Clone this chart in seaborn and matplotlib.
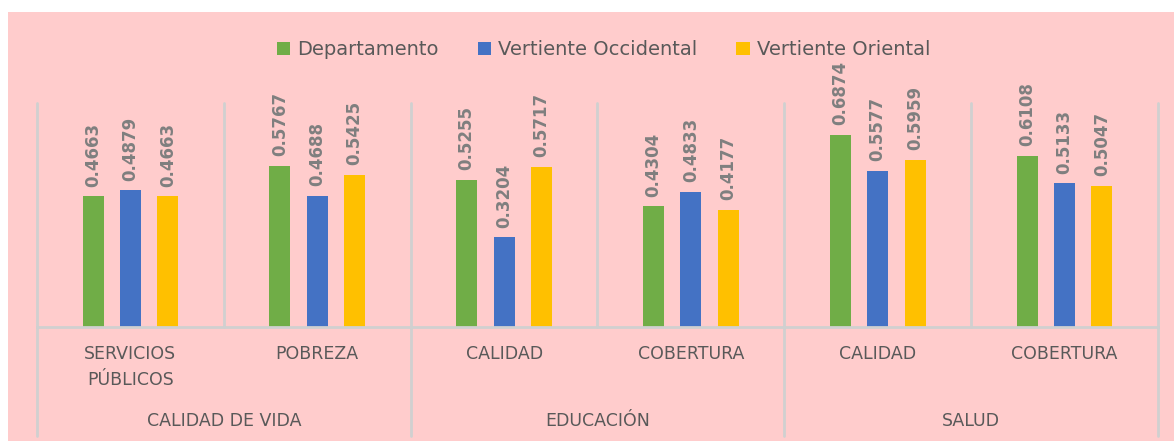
import matplotlib
matplotlib.use("Agg")
import matplotlib.pyplot as plt
from matplotlib.patches import Rectangle
import pandas as pd
import seaborn as sns

# data
groups = ["CALIDAD DE VIDA", "EDUCACIÓN", "SALUD"]
subcats = ["SERVICIOS\nPÚBLICOS", "POBREZA", "CALIDAD", "COBERTURA", "CALIDAD", "COBERTURA"]
series = ["Departamento", "Vertiente Occidental", "Vertiente Oriental"]
departamento = [0.4663, 0.5767, 0.5255, 0.4304, 0.6874, 0.6108]
occidental = [0.4879, 0.4688, 0.3204, 0.4833, 0.5577, 0.5133]
oriental = [0.4663, 0.5425, 0.5717, 0.4177, 0.5959, 0.5047]
colors = ["#70AD47", "#4472C4", "#FFC000"]

rows = []
for vals, name in zip([departamento, occidental, oriental], series):
    for i, v in enumerate(vals):
        rows.append({"pos": i, "serie": name, "valor": v})
df = pd.DataFrame(rows)

sns.set_style("white")
plt.rcParams["font.family"] = ["DejaVu Sans"]
text_col = "#595959"
line_col = "#D0D0D0"

fig = plt.figure(figsize=(11.74, 4.41), dpi=100, facecolor="white")
fig.patches.append(Rectangle((8 / 1174, 0), 1, 1 - 12 / 441, transform=fig.transFigure,
                             facecolor="#FFCCCC", edgecolor="none", zorder=-10))
ax = fig.add_axes([37 / 1174, (441 - 327) / 441, (1158 - 37) / 1174, 224 / 441])
ax.set_facecolor("none")

sns.barplot(data=df, x="pos", y="valor", hue="serie", hue_order=series,
            palette=colors, width=0.6, gap=0.44, ax=ax, legend=True,
            edgecolor="none", saturation=1)

for cont in ax.containers:
    ax.bar_label(cont, fmt="%.4f", rotation=90, padding=7, fontsize=12,
                 fontweight="bold", color="#7F7F7F")

ax.set_xlim(-0.5, len(subcats) - 0.5)
ax.set_ylim(0, 0.8)
ax.set_xticks([])
ax.set_yticks([])
ax.set_xlabel("")
ax.set_ylabel("")
for s in ["top", "left", "right"]:
    ax.spines[s].set_visible(False)
ax.spines["bottom"].set_color(line_col)
ax.spines["bottom"].set_linewidth(2)

trans = ax.get_xaxis_transform()
# vertical gridlines between categories
for b in range(len(subcats) + 1):
    ax.plot([b - 0.5, b - 0.5], [0, 1], color=line_col, lw=2, transform=trans,
            clip_on=False, zorder=0)
# group separators below the axis
for b in [0, 2, 4, 6]:
    ax.plot([b - 0.5, b - 0.5], [0, -0.487], color=line_col, lw=2, transform=trans,
            clip_on=False)

for i, lab in enumerate(subcats):
    ax.text(i, -0.08, lab, transform=trans, ha="center", va="top", fontsize=12.5,
            color=text_col, linespacing=1.55)
for g, lab in enumerate(groups):
    ax.text(2 * g + 0.5, -0.42, lab, transform=trans, ha="center", va="center",
            fontsize=12.5, color=text_col)

handles, labels = ax.get_legend_handles_labels()
ax.get_legend().remove()
fig.legend(handles, labels, loc="center", bbox_to_anchor=(0.514, 0.887), ncol=3,
           frameon=False, fontsize=14, handlelength=0.7, handleheight=0.7,
           handletextpad=0.35, columnspacing=2.0, labelcolor=text_col)

fig.savefig("out.png", dpi=100, facecolor="white")
